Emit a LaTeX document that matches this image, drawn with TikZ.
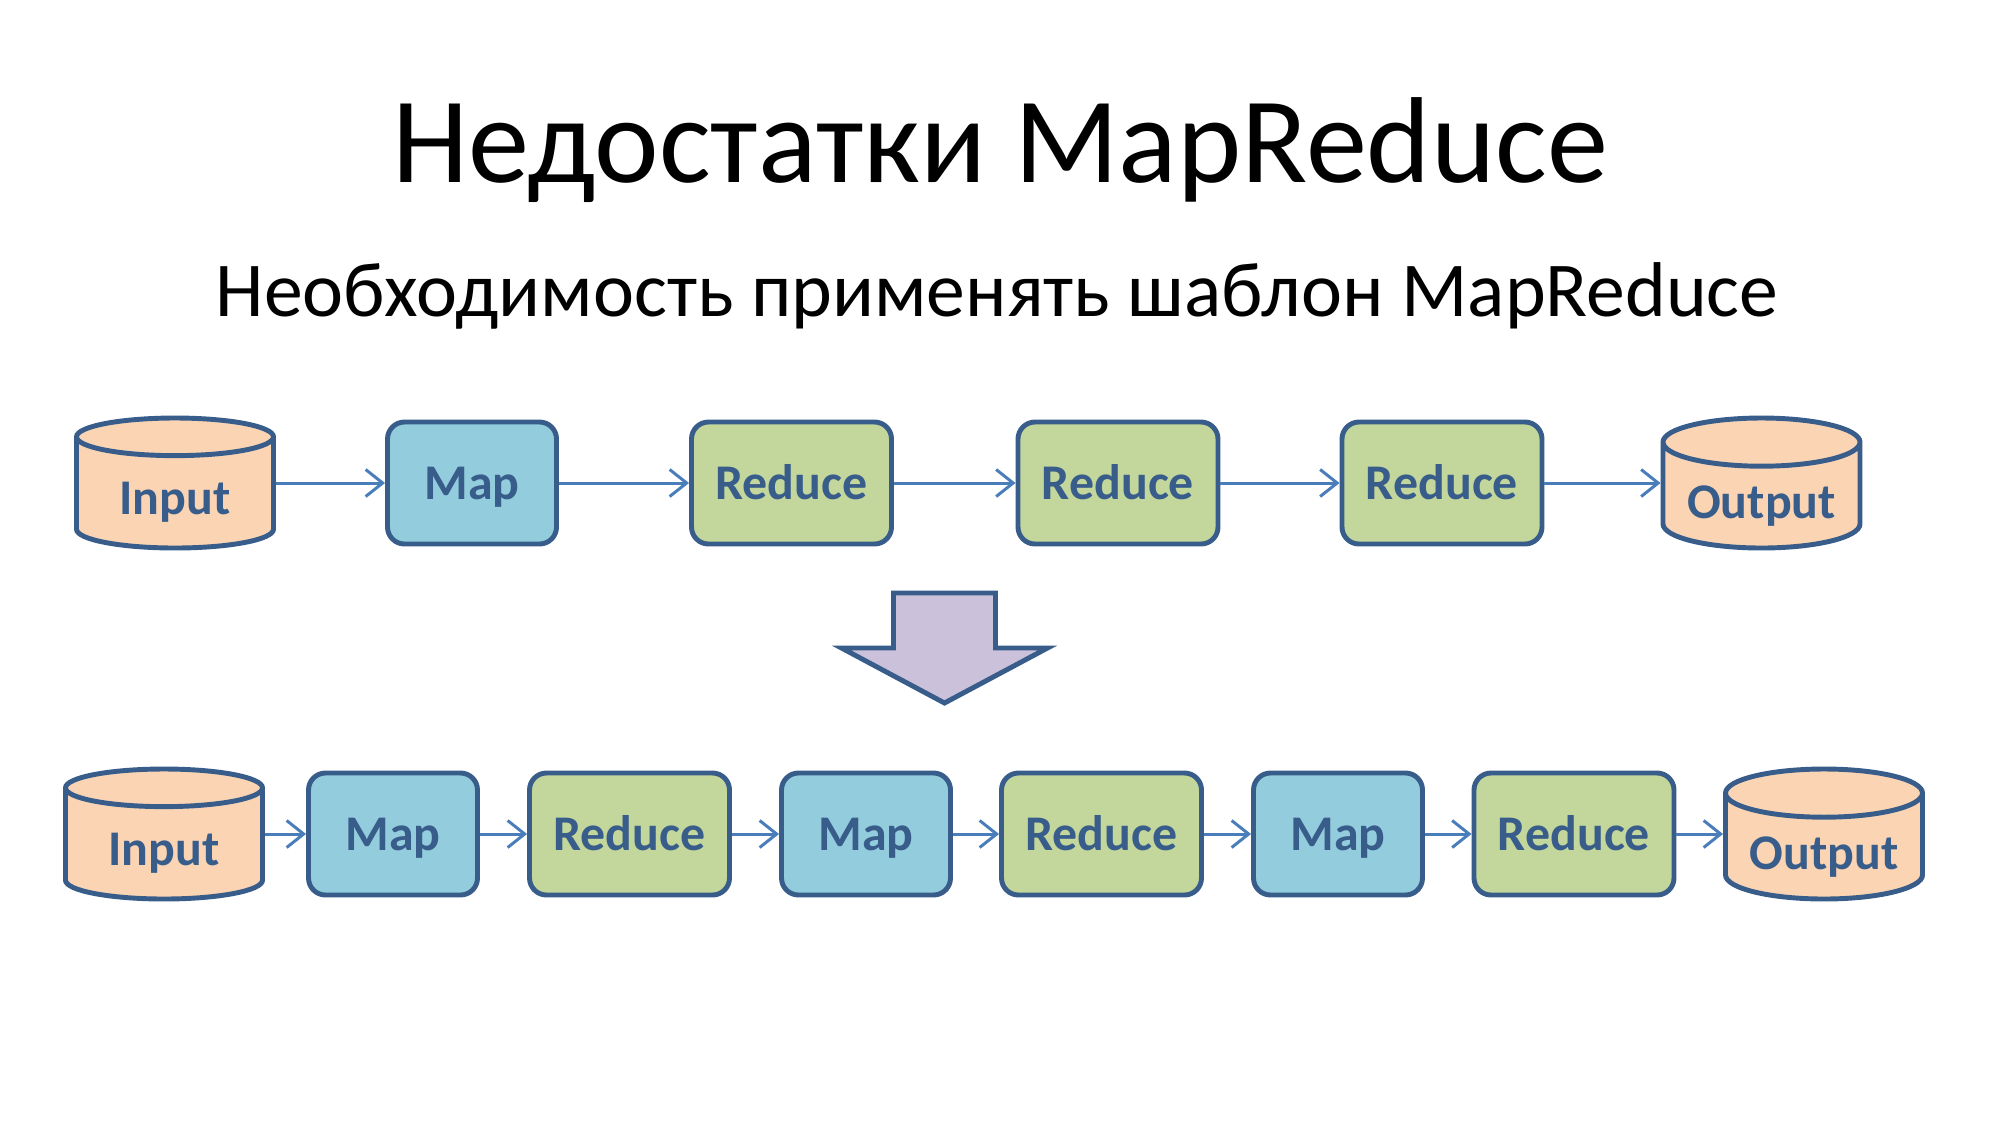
\documentclass[tikz,border=0pt]{standalone}
\usepackage{fontspec}
\setmainfont{Carlito}
\usepackage{tikz}
\usetikzlibrary{shapes.geometric,arrows.meta}

\definecolor{edgeblue}{HTML}{385D8A}
\definecolor{linkblue}{HTML}{4A7EBB}
\definecolor{dbfill}{HTML}{FBD4B4}
\definecolor{mapfill}{HTML}{93CDDD}
\definecolor{redfill}{HTML}{C3D69B}
\definecolor{bigfill}{HTML}{CCC1DA}

\begin{document}
\begin{tikzpicture}[
    labelfont/.style={text=edgeblue, font=\fontsize{14.2}{17}\selectfont\bfseries,
      text height=9.2pt, text depth=0pt},
    stagebox/.style={labelfont, draw=edgeblue, line width=1.4pt,
      rounded corners=0.17cm, minimum height=1.22cm},
    mapbox/.style={stagebox, fill=mapfill, minimum width=1.69cm},
    redbox/.style={stagebox, fill=redfill, minimum width=2.00cm},
    dbase/.style={labelfont, cylinder, shape border rotate=90, aspect=0.28,
      draw=edgeblue, line width=1.4pt, fill=dbfill, minimum width=1.97cm,
      minimum height=1.30cm, anchor=shape center},
    link/.style={draw=linkblue, line width=0.85pt,
      -{Straight Barb[length=0.17cm, width=0.27cm, line width=0.85pt]}}
  ]
    \useasboundingbox[fill=white] (0,0) rectangle (20,-11.25);

    % headings
    \node[anchor=base, font=\fontsize{34.8}{42}\selectfont] (title) at (10,-1.82) {Недостатки MapReduce};
    \node[anchor=base, font=\fontsize{22.1}{27}\selectfont] (subtitle) at (9.97,-3.16) {Необходимость применять шаблон MapReduce};

    % top chain
    \node[dbase]  (in1)  at ( 1.75,-4.83) {Input};
    \node[mapbox] (map1) at ( 4.72,-4.83) {Map};
    \node[redbox] (red1) at ( 7.915,-4.83) {Reduce};
    \node[redbox] (red2) at (11.18,-4.83) {Reduce};
    \node[redbox] (red3) at (14.42,-4.83) {Reduce};
    \node[dbase]  (out1) at (17.615,-4.83) {Output};
    \draw[link] (in1.east |- map1.west) -- (map1.west);
    \draw[link] (map1) -- (red1);
    \draw[link] (red1) -- (red2);
    \draw[link] (red2) -- (red3);
    \draw[link] (red3.east) -- (out1.west |- red3.east);

    % big arrow down
    \draw[draw=edgeblue, line width=1.4pt, fill=bigfill, line join=miter]
      (8.935,-5.93) -- (9.955,-5.93) -- (9.955,-6.48) -- (10.475,-6.48)
      -- (9.445,-7.03) -- (8.415,-6.48) -- (8.935,-6.48) -- cycle;

    % bottom chain
    \node[dbase]  (in2)  at ( 1.64,-8.34) {Input};
    \node[mapbox] (map2) at ( 3.93,-8.34) {Map};
    \node[redbox] (red4) at ( 6.295,-8.34) {Reduce};
    \node[mapbox] (map3) at ( 8.66,-8.34) {Map};
    \node[redbox] (red5) at (11.015,-8.34) {Reduce};
    \node[mapbox] (map4) at (13.38,-8.34) {Map};
    \node[redbox] (red6) at (15.74,-8.34) {Reduce};
    \node[dbase]  (out2) at (18.24,-8.34) {Output};
    \draw[link] (in2.east |- map2.west) -- (map2.west);
    \draw[link] (map2) -- (red4);
    \draw[link] (red4) -- (map3);
    \draw[link] (map3) -- (red5);
    \draw[link] (red5) -- (map4);
    \draw[link] (map4) -- (red6);
    \draw[link] (red6.east) -- (out2.west |- red6.east);
  \end{tikzpicture}
\end{document}
